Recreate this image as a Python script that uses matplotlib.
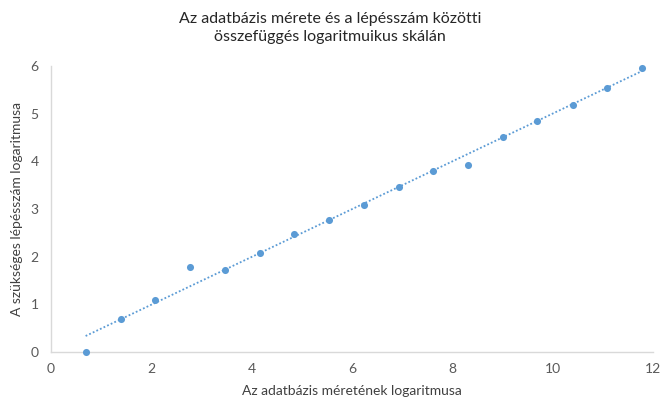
import numpy as np
import matplotlib
matplotlib.use("Agg")
import matplotlib.pyplot as plt

plt.rcParams['font.family'] = ['Lato', 'DejaVu Sans']

# log of database size vs log of required step count
log_size = [0.69, 1.39, 2.08, 2.77, 3.47, 4.16, 4.85, 5.55, 6.24, 6.93,
            7.62, 8.32, 9.01, 9.70, 10.40, 11.09, 11.78]
log_steps = [0.00, 0.69, 1.10, 1.79, 1.72, 2.08, 2.48, 2.77, 3.09, 3.47,
             3.81, 3.93, 4.52, 4.84, 5.19, 5.55, 5.97]

x_ticks = [0, 2, 4, 6, 8, 10, 12]
y_ticks = [0, 1, 2, 3, 4, 5, 6]

blue = '#5b9bd5'
tick_grey = '#595959'
label_grey = '#404040'
title_col = '#262626'

fig = plt.figure(figsize=(6.6, 4.01), dpi=100)
ax = fig.add_axes([0.0773, 0.122, 0.9117, 0.713])

x = np.array(log_size)
y = np.array(log_steps)

# linear trendline
slope, intercept = np.polyfit(x, y, 1)
xt = np.array([x.min(), x.max()])
ax.plot(xt, slope * xt + intercept, color=blue, linestyle=(0, (1, 1.2)),
        linewidth=1.3, zorder=2)

ax.scatter(x, y, s=26, color=blue, zorder=3, linewidths=0, clip_on=False)

ax.set_xlim(0, 12)
ax.set_ylim(0, 6)
ax.set_xticks(x_ticks)
ax.set_yticks(y_ticks)
ax.tick_params(length=0, colors=tick_grey, labelsize=10, pad=8)
ax.tick_params(axis='y', pad=9)

for side in ['top', 'right']:
    ax.spines[side].set_visible(False)
for side in ['left', 'bottom']:
    ax.spines[side].set_color('#d9d9d9')
    ax.spines[side].set_linewidth(1.0)

ax.set_xlabel('Az adatbázis méretének logaritmusa', fontsize=10,
              color=label_grey, labelpad=7)
ax.set_ylabel('A szükséges lépésszám logaritmusa', fontsize=10,
              color=label_grey, labelpad=5)

fig.text(0.5, 0.97, 'Az adatbázis mérete és a lépésszám közötti\n'
         'összefüggés logaritmuikus skálán', ha='center', va='top',
         fontsize=11.5, color=title_col, linespacing=1.35)

fig.savefig('out.png', dpi=100)
